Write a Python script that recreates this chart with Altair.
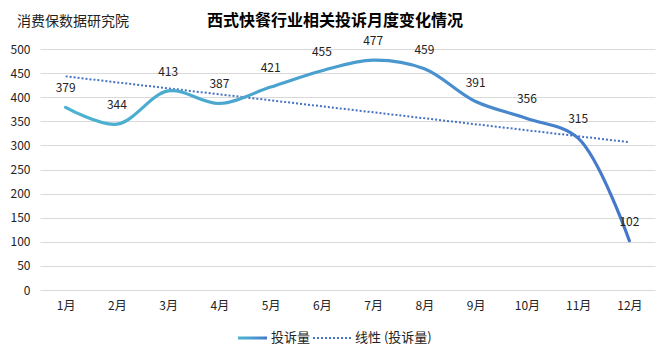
import altair as alt
import pandas as pd

months = ["1月", "2月", "3月", "4月", "5月", "6月", "7月", "8月", "9月", "10月", "11月", "12月"]
month_idx = list(range(1, 13))
complaints = [379, 344, 413, 387, 421, 455, 477, 459, 391, 356, 315, 102]
y_ticks = [0, 50, 100, 150, 200, 250, 300, 350, 400, 450, 500]

title_text = "西式快餐行业相关投诉月度变化情况"
source_text = "消费保数据研究院"
legend_main = "投诉量"
legend_trend = "线性 (投诉量)"

df = pd.DataFrame({"idx": month_idx, "month": months, "value": complaints})

FONT = "Noto Sans CJK SC"
grad = alt.Gradient(
    gradient="linear",
    stops=[alt.GradientStop(color="#4CB3D0", offset=0),
           alt.GradientStop(color="#4A9ECF", offset=0.5),
           alt.GradientStop(color="#4675CB", offset=1)],
    x1=0, x2=1, y1=0, y2=0,
)

label_expr = "[" + ",".join("'%s'" % m for m in months) + "][datum.value - 1]"

x_enc = alt.X("idx:Q", scale=alt.Scale(domain=[0.5, 12.5], nice=False, zero=False),
              axis=alt.Axis(values=month_idx, labelExpr=label_expr, title=None, grid=False,
                            ticks=False, domain=False, labelPadding=10, labelFontSize=12,
                            labelColor="#222", labelFont=FONT, labelOverlap=False))
y_enc = alt.Y("value:Q", scale=alt.Scale(domain=[0, 500], nice=False),
              axis=alt.Axis(values=y_ticks, title=None, ticks=False, domain=False,
                            labelPadding=10, labelFontSize=12, labelColor="#222",
                            gridColor="#D9D9D9", gridWidth=1, labelFont=FONT,
                            labelOverlap=False))

base = alt.Chart(df)

line = base.mark_line(interpolate="catmull-rom", strokeWidth=3.2, stroke=grad,
                      strokeCap="round").encode(x=x_enc, y=y_enc)

trend = base.transform_regression("idx", "value", method="linear").mark_line(
    color="#4472C4", strokeWidth=2, strokeDash=[2, 2]
).encode(x=x_enc, y=y_enc)

labels = base.mark_text(dy=-19, fontSize=12, color="#222", font=FONT).encode(
    x=x_enc, y=y_enc, text="value:Q")

one = alt.Data(values=[{"a": 1}])

title = alt.Chart(one).mark_text(text=title_text, fontSize=16, fontWeight="bold", font=FONT,
                                 color="#000", align="center", baseline="middle").encode(
    x=alt.value(295), y=alt.value(-28))
source = alt.Chart(one).mark_text(text=source_text, fontSize=14, font=FONT, color="#222",
                                  align="left", baseline="middle").encode(
    x=alt.value(-23), y=alt.value(-27))

leg_rect = alt.Chart(one).mark_rect(fill=grad).encode(
    x=alt.value(198), x2=alt.value(227), y=alt.value(287.5), y2=alt.value(290.5))
leg_text1 = alt.Chart(one).mark_text(text=legend_main, fontSize=13, font=FONT, color="#222",
                                     align="left", baseline="middle").encode(
    x=alt.value(231), y=alt.value(289))
leg_rule = alt.Chart(one).mark_rule(color="#4472C4", strokeWidth=2, strokeDash=[2, 2]).encode(
    x=alt.value(273), x2=alt.value(312), y=alt.value(289))
leg_text2 = alt.Chart(one).mark_text(text=legend_trend, fontSize=13, font=FONT, color="#222",
                                     align="left", baseline="middle").encode(
    x=alt.value(315), y=alt.value(289))

chart = alt.layer(trend, line, labels, title, source, leg_rect, leg_text1, leg_rule, leg_text2).properties(
    width=615, height=241,
    padding={"left": 32, "top": 41, "right": 8, "bottom": 69},
    autosize=alt.AutoSizeParams(type="none"),
    background="white",
).configure_view(stroke=None)

chart.save("out.html", embed_options={"renderer": "svg", "actions": False})
